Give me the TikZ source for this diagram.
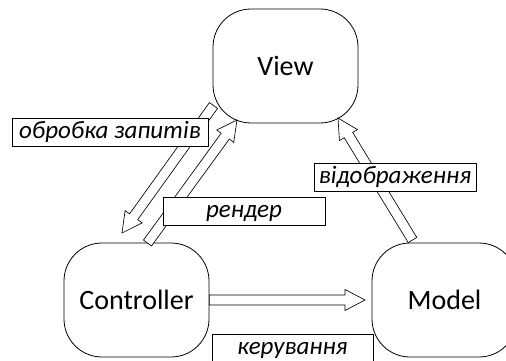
\documentclass[tikz,border=0pt]{standalone}
\usepackage{fontspec}
\setmainfont{Carlito}
\usetikzlibrary{calc}
\tikzset{
  box/.style={draw, line width=0.8pt, rounded corners=38pt, minimum width=145pt, minimum height=114pt, inner sep=0pt, font=\fontsize{28}{32}\selectfont},
  lbl/.style={draw, fill=white, line width=0.7pt, minimum height=28pt, inner sep=0pt, text height=17pt, text depth=5pt, font=\fontsize{25}{28}\selectfont\itshape},
  arr/.style={draw, fill=white, line width=0.65pt, line join=miter}
}
\newcommand\harrow[2]{%
  \coordinate (hh) at ($(#2)!20pt!(#1)$);
  \draw[arr] ($(#1)!5pt!90:(#2)$) -- ($(hh)!5pt!-90:(#1)$) -- ($(hh)!10.5pt!-90:(#1)$) -- (#2)
    -- ($(hh)!10.5pt!90:(#1)$) -- ($(hh)!5pt!90:(#1)$) -- ($(#1)!5pt!-90:(#2)$) -- cycle;}
\begin{document}
\begin{tikzpicture}[x=1pt, y=-1pt]
\useasboundingbox (0,0) rectangle (506,361);
\clip (0,0) rectangle (506,361);
\node[box] (view) at (285.5,66) {View};
\node[box] (ctrl) at (136.5,300) {Controller};
\node[box] (model) at (444.5,300) {Model};
\coordinate (a1s) at (213.5,105.5);
\coordinate (a1e) at (122,233);
\coordinate (a2s) at (147.5,243);
\coordinate (a2e) at (237,120);
\coordinate (a3s) at (412.5,240);
\coordinate (a3e) at (338,118);
\coordinate (a4s) at (ctrl.east);
\coordinate (a4e) at (365,300);
\harrow{a1s}{a1e}
\harrow{a2s}{a2e}
\harrow{a3s}{a3e}
\harrow{a4s}{a4e}
\node[lbl, minimum width=196pt] (l1) at (110,132) {обробка запитів};
\node[lbl, minimum width=162pt] (l2) at (244,211) {рендер};
\node[lbl, minimum width=162pt] (l3) at (395,177) {відображення};
\node[lbl, minimum width=161pt] (l4) at (292.5,348) {керування};
\end{tikzpicture}
\end{document}
